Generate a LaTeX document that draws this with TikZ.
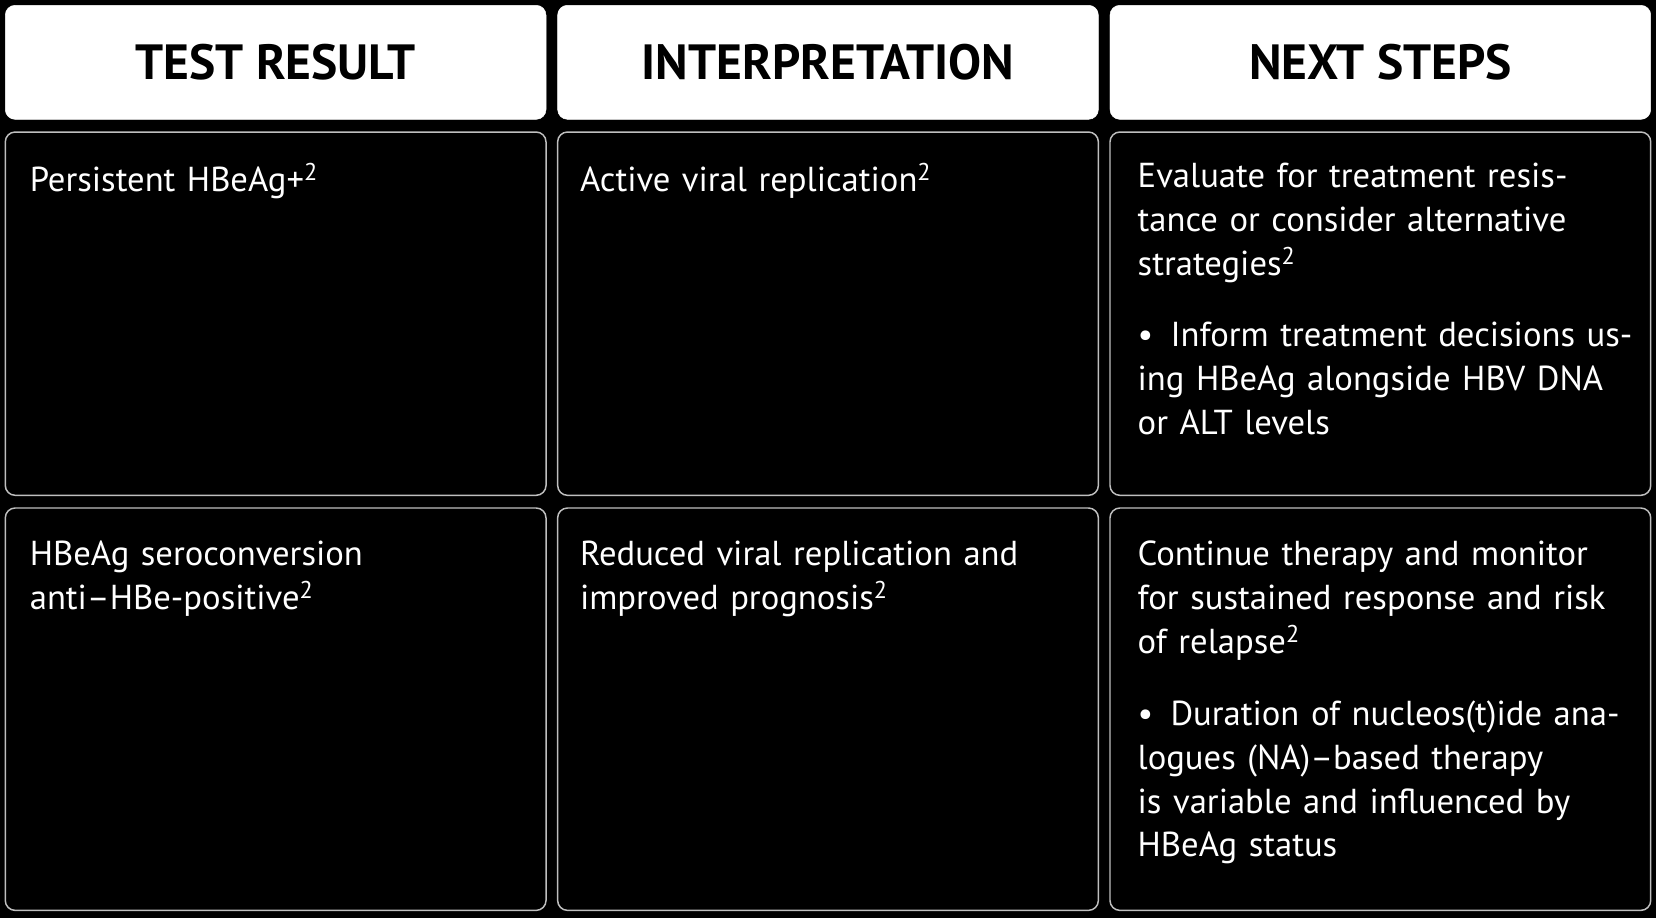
\documentclass[tikz,border=0pt]{standalone}
\usepackage{fontspec}
\setmainfont{PT Sans}
\usetikzlibrary{positioning}
\tikzset{
    headbox/.style={draw=white,fill=white,rounded corners=8pt,minimum width=512*0.03cm,minimum height=108*0.03cm,font=\fontsize{40}{46}\selectfont\bfseries,text=black},
    cellbox/.style={draw=black!25,fill=black,line width=1.2pt,rounded corners=8pt},
    celltext/.style={anchor=north west,text=white,align=left,inner sep=0pt,text width=470*0.03cm,font=\fontsize{28}{35.5}\selectfont},
}
\newcommand{\hbull}[1]{\par\vspace{0.8em}\hangindent=0.95em\hangafter=1\noindent\makebox[0.95em][l]{\textbullet}#1}
\begin{document}
\begin{tikzpicture}[x=0.03cm,y=-0.03cm]
    \fill[black] (0,0) rectangle (1568,869);
    \useasboundingbox (0,0) rectangle (1568,869);
    % headers
    \node[headbox] (h1) at (261,59) {TEST RESULT};
    \node[headbox] (h2) at (784,59) {INTERPRETATION};
    \node[headbox] (h3) at (1307,59) {NEXT STEPS};
    % cells
    \foreach \x in {5,528,1051}{
        \draw[cellbox] (\x,125) rectangle ++(512,344);
        \draw[cellbox] (\x,481) rectangle ++(512,381);
    }
    % row 1
    \node[celltext] (r1a) at (28,154) {Persistent HBeAg+\textsuperscript{2}};
    \node[celltext] (r1b) at (549,154) {Active viral replication\textsuperscript{2}};
    \node[celltext] (r1c) at (1077,154) {Evaluate for treatment resistance or consider alternative strategies\textsuperscript{2}
        \hbull{Inform treatment decisions using HBeAg alongside HBV DNA or ALT levels}};
    % row 2
    \node[celltext] (r2a) at (28,512) {HBeAg seroconversion\\anti--HBe-positive\textsuperscript{2}};
    \node[celltext] (r2b) at (549,512) {Reduced viral replication and improved prognosis\textsuperscript{2}};
    \node[celltext] (r2c) at (1077,512) {Continue therapy and monitor for sustained response and risk of relapse\textsuperscript{2}
        \hbull{Duration of nucleos(t)ide analogues (NA)--based therapy is variable and influenced by HBeAg status}};
\end{tikzpicture}
\end{document}
